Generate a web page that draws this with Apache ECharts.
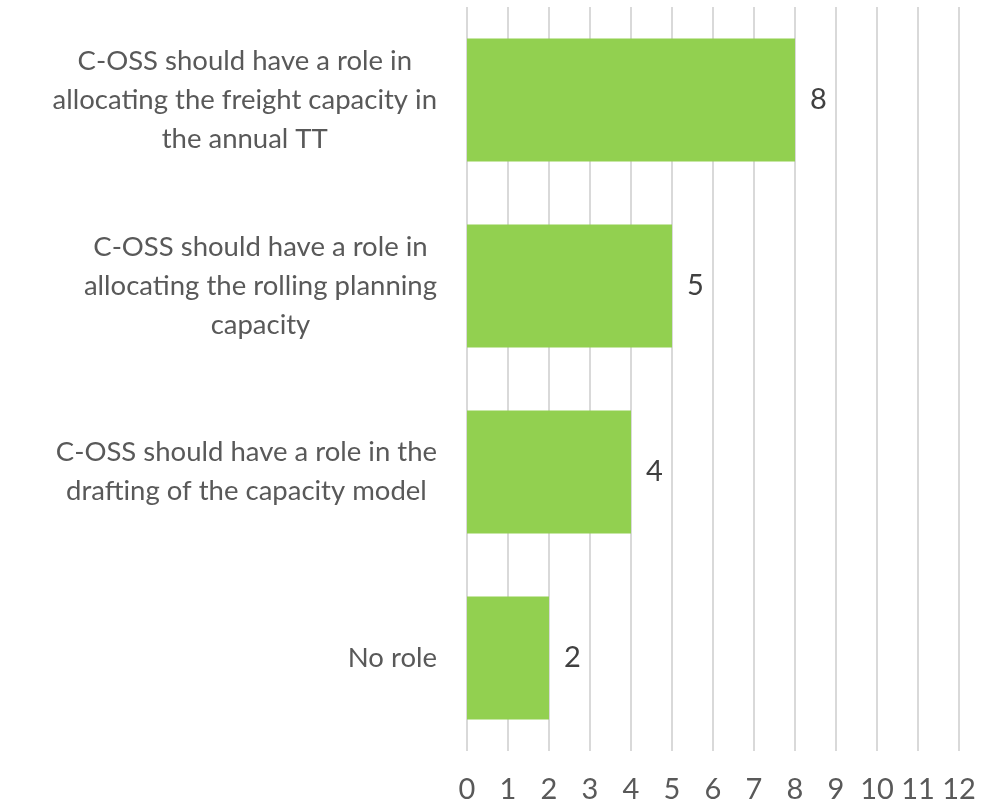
<!DOCTYPE html>
<html>
<head>
<meta charset="utf-8">
<script src="https://cdn.jsdelivr.net/npm/echarts@6/dist/echarts.min.js"></script>
<style>html,body{margin:0;padding:0;background:#fff;}#c{width:1000px;height:806px;}</style>
</head>
<body>
<div id="c"></div>
<script>
var categories = [
  "C-OSS should have a role in\nallocating the freight capacity in\nthe annual TT",
  "C-OSS should have a role in\nallocating the rolling planning\ncapacity",
  "C-OSS should have a role in the\ndrafting of the capacity model",
  "No role"
];
var values = [8, 5, 4, 2];
var axisMin = 0, axisMax = 12, axisStep = 1;

var chart = echarts.init(document.getElementById('c'));
var FONT = 'Lato, "Open Sans", sans-serif';
chart.setOption({
  animation: false,
  grid: { left: 467, right: 41, top: 7, bottom: 55 },
  xAxis: {
    type: 'value', min: axisMin, max: axisMax, interval: axisStep,
    axisLine: { show: false }, axisTick: { show: false },
    splitLine: { show: true, lineStyle: { color: '#d9d9d9', width: 2 } },
    axisLabel: { color: '#595959', fontSize: 29, fontFamily: FONT, margin: 24 }
  },
  yAxis: {
    type: 'category', data: categories, inverse: true,
    axisLine: { show: false }, axisTick: { show: false },
    axisLabel: {
      color: '#595959', fontSize: 27.5, fontFamily: FONT, margin: 30, align: 'right', lineHeight: 39,
      formatter: function (v) {
        return v.split('\n').map(function (l) { return '{c|' + l + '}'; }).join('\n');
      },
      rich: { c: { align: 'center', color: '#595959', fontSize: 27.5, fontFamily: FONT, lineHeight: 39 } }
    }
  },
  series: [{
    type: 'bar', data: values, barWidth: 123,
    itemStyle: { color: '#92d050' },
    label: { show: true, position: 'right', distance: 15, color: '#404040', fontSize: 29, fontFamily: FONT }
  }]
});
</script>
</body>
</html>
